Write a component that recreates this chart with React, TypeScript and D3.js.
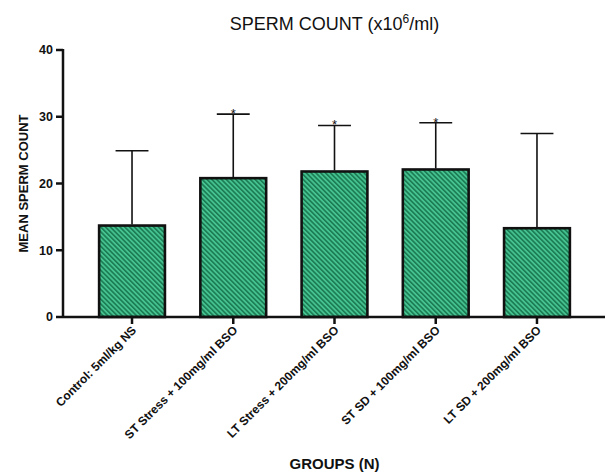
import React from 'react';
import * as d3 from 'd3';

// groups on the x axis
const groups = [
  'Control: 5ml/kg NS',
  'ST Stress + 100mg/ml BSO',
  'LT Stress + 200mg/ml BSO',
  'ST SD + 100mg/ml BSO',
  'LT SD + 200mg/ml BSO',
];
// mean sperm count (x10^6/ml)
const means = [13.7, 20.8, 21.8, 22.1, 13.3];
// top of the error bar (mean + SD)
const upper = [24.9, 30.4, 28.7, 29.1, 27.5];
// significance marks
const marks = ['', '*', '*', '*', ''];
const yTicks = [0, 10, 20, 30, 40];

const width = 605;
const height = 474;
const font = 'Liberation Sans, Arial, Helvetica, sans-serif';

export default function App() {
  const x = d3.scaleBand<string>().domain(groups).range([81.4, 587.6]).paddingInner(0.35).paddingOuter(0.175);
  const y = d3.scaleLinear().domain([0, 40]).range([317, 50]);

  const axisLeft = 63;
  const capHalf = x.bandwidth() / 4;
  const center = (81.4 + 587.6) / 2;

  return (
    <svg width={width} height={height} style={{ position: 'absolute', left: 0, top: 0, background: '#fff' }}>
      <defs>
        {/* diagonal hatching like the prism bars */}
        <pattern id="hatch" patternUnits="userSpaceOnUse" width="3.4" height="3.4" patternTransform="rotate(45)">
          <rect width="3.4" height="3.4" fill="#45c28f" />
          <line x1="0" y1="0.9" x2="3.4" y2="0.9" stroke="#18754f" strokeWidth="1.5" />
        </pattern>
      </defs>

      <text x={center} y={30} textAnchor="middle" fontFamily={font} fontSize={18} fill="#111">
        SPERM COUNT (x10<tspan fontSize={12} dy={-7}>6</tspan><tspan dy={7}>/ml)</tspan>
      </text>

      {/* bars */}
      {groups.map((g, i) => (
        <rect key={g} x={x(g)} y={y(means[i])} width={x.bandwidth()} height={y(0) - y(means[i])}
          fill="url(#hatch)" stroke="#111" strokeWidth={2.6} />
      ))}

      {/* error bars, upper only */}
      {groups.map((g, i) => {
        const cx = (x(g) as number) + x.bandwidth() / 2;
        return (
          <g key={g + 'e'} stroke="#111" strokeWidth={1.6}>
            <line x1={cx} x2={cx} y1={y(means[i]) - 1} y2={y(upper[i])} />
            <line x1={cx - capHalf} x2={cx + capHalf} y1={y(upper[i])} y2={y(upper[i])} />
          </g>
        );
      })}

      {groups.map((g, i) => marks[i] ? (
        <text key={g + 'm'} x={(x(g) as number) + x.bandwidth() / 2} y={y(upper[i]) + 4} textAnchor="middle"
          fontFamily={font} fontSize={13} fill="#111">{marks[i]}</text>
      ) : null)}

      {/* y axis */}
      <line x1={axisLeft} x2={axisLeft} y1={y(40) - 1} y2={y(0) + 1} stroke="#111" strokeWidth={2.5} />
      {yTicks.map(t => (
        <g key={t}>
          <line x1={axisLeft - 7} x2={axisLeft} y1={y(t)} y2={y(t)} stroke="#111" strokeWidth={2.5} />
          <text x={axisLeft - 10} y={y(t)} dy="0.35em" textAnchor="end" fontFamily={font}
            fontSize={12.5} fontWeight="bold" fill="#111">{t}</text>
        </g>
      ))}

      {/* x axis */}
      <line x1={axisLeft} x2={605} y1={y(0)} y2={y(0)} stroke="#111" strokeWidth={2.5} />
      {groups.map(g => {
        const cx = (x(g) as number) + x.bandwidth() / 2;
        return (
          <g key={g + 't'}>
            <line x1={cx} x2={cx} y1={y(0)} y2={y(0) + 7} stroke="#111" strokeWidth={2.5} />
            <text transform={`translate(${cx + 5},${y(0) + 14}) rotate(-45)`} textAnchor="end"
              fontFamily={font} fontSize={12} fontWeight="bold" fill="#111">{g}</text>
          </g>
        );
      })}

      <text transform={`translate(23,${y(20)}) rotate(-90)`} textAnchor="middle" dy="0.35em"
        fontFamily={font} fontSize={13} fontWeight="bold" fill="#111">MEAN SPERM COUNT</text>
      <text x={center} y={469} textAnchor="middle" fontFamily={font} fontSize={15} fontWeight="bold" fill="#111">GROUPS (N)</text>
    </svg>
  );
}
